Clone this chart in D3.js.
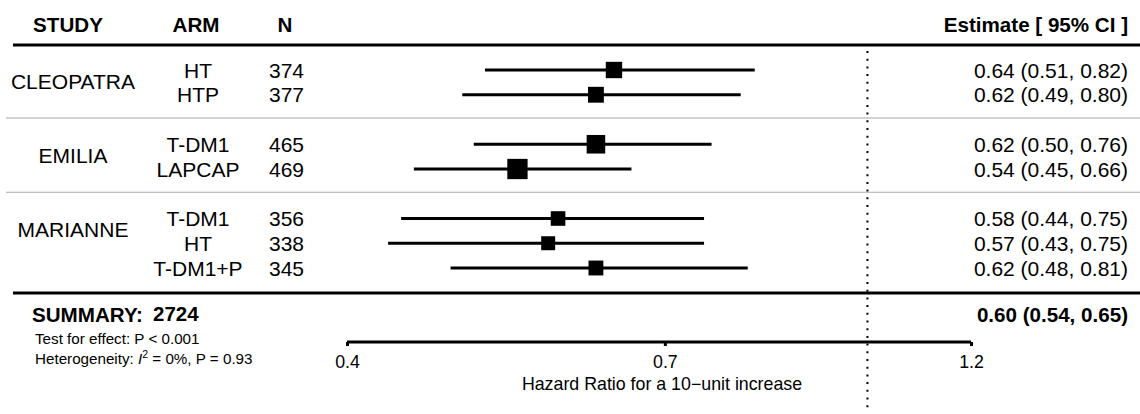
<!DOCTYPE html>
<html>
<head>
<meta charset="utf-8">
<script src="https://cdn.jsdelivr.net/npm/d3@7"></script>
<style>
  body { margin: 0; background: #fff; }
  svg text { font-family: "Liberation Sans", Arial, sans-serif; fill: #000; }
</style>
</head>
<body>
<div id="container"></div>
<script>
/* CONSTANTS AND GLOBALS */
const width = 1140,
  height = 414

/* DATA */
const headers = ["STUDY", "ARM", "N", "Estimate [ 95% CI ]"]
const studies = ["CLEOPATRA", "EMILIA", "MARIANNE"]
const armStudy = [0, 0, 1, 1, 2, 2, 2]
const arms = ["HT", "HTP", "T-DM1", "LAPCAP", "T-DM1", "HT", "T-DM1+P"]
const ns = [374, 377, 465, 469, 356, 338, 345]
const est = [0.64, 0.62, 0.62, 0.54, 0.58, 0.57, 0.62]
const lower = [0.51, 0.49, 0.50, 0.45, 0.44, 0.43, 0.48]
const upper = [0.82, 0.80, 0.76, 0.66, 0.75, 0.75, 0.81]
const summary = { label: "SUMMARY:", n: 2724, est: 0.60, lower: 0.54, upper: 0.65 }
const summaryNotes = ["Test for effect: P < 0.001", "Heterogeneity: "]
const xTicks = [0.4, 0.7, 1.2]
const xLabel = "Hazard Ratio for a 10\u2212unit increase"

const fmt = d3.format(".2f")

// rows: one slot per arm, plus a blank slot between studies
const rows = arms.map((a, i) => ({
  study: armStudy[i],
  arm: a,
  n: ns[i],
  est: est[i],
  lo: lower[i],
  hi: upper[i],
  slot: i + armStudy[i],
  // inverse-variance weight from the CI width on the log scale
  w: 1 / Math.pow((Math.log(upper[i]) - Math.log(lower[i])) / 3.92, 2)
}))

/* SCALES */
const xScale = d3.scaleLog()
  .domain([0.4, 1.2])
  .range([347, 971])

const yScale = d3.scaleLinear()
  .domain([0, 8])
  .range([70, 268])

const sizeScale = d3.scaleSqrt()
  .domain([0, d3.max(rows, d => d.w)])
  .range([0, 20.3])

const svg = d3.select("#container")
  .append("svg")
  .attr("width", width)
  .attr("height", height)

/* HEADER */
const headerX = [68, 196, 285, 1128]
const headerAnchor = ["middle", "middle", "middle", "end"]
svg.selectAll("text.header")
  .data(headers)
  .join("text")
  .attr("class", "header")
  .attr("x", (d, i) => headerX[i])
  .attr("y", 32)
  .attr("text-anchor", (d, i) => headerAnchor[i])
  .attr("font-size", 20.6)
  .attr("font-weight", "bold")
  .text(d => d)

// thick rules
svg.selectAll("line.rule")
  .data([45, 293])
  .join("line")
  .attr("class", "rule")
  .attr("x1", 13).attr("x2", width)
  .attr("y1", d => d).attr("y2", d => d)
  .attr("stroke", "#000")
  .attr("stroke-width", 3)

// grey separators between studies
svg.selectAll("line.sep")
  .data([2, 5])
  .join("line")
  .attr("class", "sep")
  .attr("x1", 6).attr("x2", width)
  .attr("y1", d => yScale(d) - 1.5).attr("y2", d => yScale(d) - 1.5)
  .attr("stroke", "#aaa")
  .attr("stroke-width", 1.2)

// reference line at HR = 1
svg.append("line")
  .attr("x1", xScale(1)).attr("x2", xScale(1))
  .attr("y1", 51).attr("y2", 410)
  .attr("stroke", "#000")
  .attr("stroke-width", 2)
  .attr("stroke-dasharray", "2,5.7")

/* STUDY LABELS */
svg.selectAll("text.study")
  .data(studies)
  .join("text")
  .attr("class", "study")
  .attr("x", 73)
  .attr("y", (d, i) => {
    const r = rows.filter(r => r.study === i)
    return (yScale(r[0].slot) + yScale(r[1].slot)) / 2 - 1
  })
  .attr("dy", "0.36em")
  .attr("text-anchor", "middle")
  .attr("font-size", 21)
  .text(d => d)

/* ROW TEXT */
svg.selectAll("text.arm")
  .data(rows)
  .join("text")
  .attr("class", "arm")
  .attr("x", 198)
  .attr("y", d => yScale(d.slot))
  .attr("dy", "0.36em")
  .attr("text-anchor", "middle")
  .attr("font-size", 21)
  .text(d => d.arm)

svg.selectAll("text.n")
  .data(rows)
  .join("text")
  .attr("class", "n")
  .attr("x", 269)
  .attr("y", d => yScale(d.slot))
  .attr("dy", "0.36em")
  .attr("font-size", 21)
  .text(d => d.n)

svg.selectAll("text.est")
  .data(rows)
  .join("text")
  .attr("class", "est")
  .attr("x", 1128)
  .attr("y", d => yScale(d.slot))
  .attr("dy", "0.36em")
  .attr("text-anchor", "end")
  .attr("font-size", 21)
  .text(d => `${fmt(d.est)} (${fmt(d.lo)}, ${fmt(d.hi)})`)

/* CI LINES + BOXES */
svg.selectAll("line.ci")
  .data(rows)
  .join("line")
  .attr("class", "ci")
  .attr("x1", d => xScale(d.lo))
  .attr("x2", d => xScale(d.hi))
  .attr("y1", d => yScale(d.slot))
  .attr("y2", d => yScale(d.slot))
  .attr("stroke", "#000")
  .attr("stroke-width", 3)

svg.selectAll("rect.box")
  .data(rows)
  .join("rect")
  .attr("class", "box")
  .attr("x", d => xScale(d.est) - sizeScale(d.w) / 2)
  .attr("y", d => yScale(d.slot) - sizeScale(d.w) / 2)
  .attr("width", d => sizeScale(d.w))
  .attr("height", d => sizeScale(d.w))
  .attr("fill", "#000")

/* SUMMARY */
svg.append("text")
  .attr("x", 32).attr("y", 322)
  .attr("font-size", 20.6)
  .attr("font-weight", "bold")
  .text(summary.label)
svg.append("text")
  .attr("x", 153).attr("y", 321)
  .attr("font-size", 20.5)
  .attr("font-weight", "bold")
  .text(summary.n)
svg.append("text")
  .attr("x", 1128).attr("y", 322)
  .attr("text-anchor", "end")
  .attr("font-size", 20.6)
  .attr("font-weight", "bold")
  .text(`${fmt(summary.est)} (${fmt(summary.lower)}, ${fmt(summary.upper)})`)

svg.append("text")
  .attr("x", 35).attr("y", 344)
  .attr("font-size", 15.2)
  .attr("fill", "#222")
  .text(summaryNotes[0])
const het = svg.append("text")
  .attr("x", 35).attr("y", 364)
  .attr("font-size", 15.2)
  .attr("fill", "#222")
het.append("tspan").text(summaryNotes[1])
het.append("tspan").attr("font-style", "italic").text("I")
het.append("tspan").attr("font-size", 10.5).attr("dy", -6).text("2")
het.append("tspan").attr("dy", 6).text(" = 0%, P = 0.93")

/* X AXIS */
const xAxis = d3.axisBottom(xScale)
  .tickValues(xTicks)
  .tickFormat(d3.format(".1f"))
  .tickSize(4)
  .tickSizeOuter(0)

const axisG = svg.append("g")
  .attr("transform", "translate(0,342)")
  .call(xAxis)
axisG.select(".domain").attr("stroke-width", 3).attr("d", `M${xScale(0.4)},0H${xScale(1.2)}`)
axisG.selectAll(".tick line").attr("stroke-width", 3)
axisG.selectAll(".tick text")
  .attr("font-size", 17.8)
  .attr("font-family", "Liberation Sans, Arial, sans-serif")
  .attr("y", 13)

svg.append("text")
  .attr("x", (xScale(0.4) + xScale(1.2)) / 2 + 3)
  .attr("y", 390)
  .attr("text-anchor", "middle")
  .attr("font-size", 17.8)
  .text(xLabel)
</script>
</body>
</html>
